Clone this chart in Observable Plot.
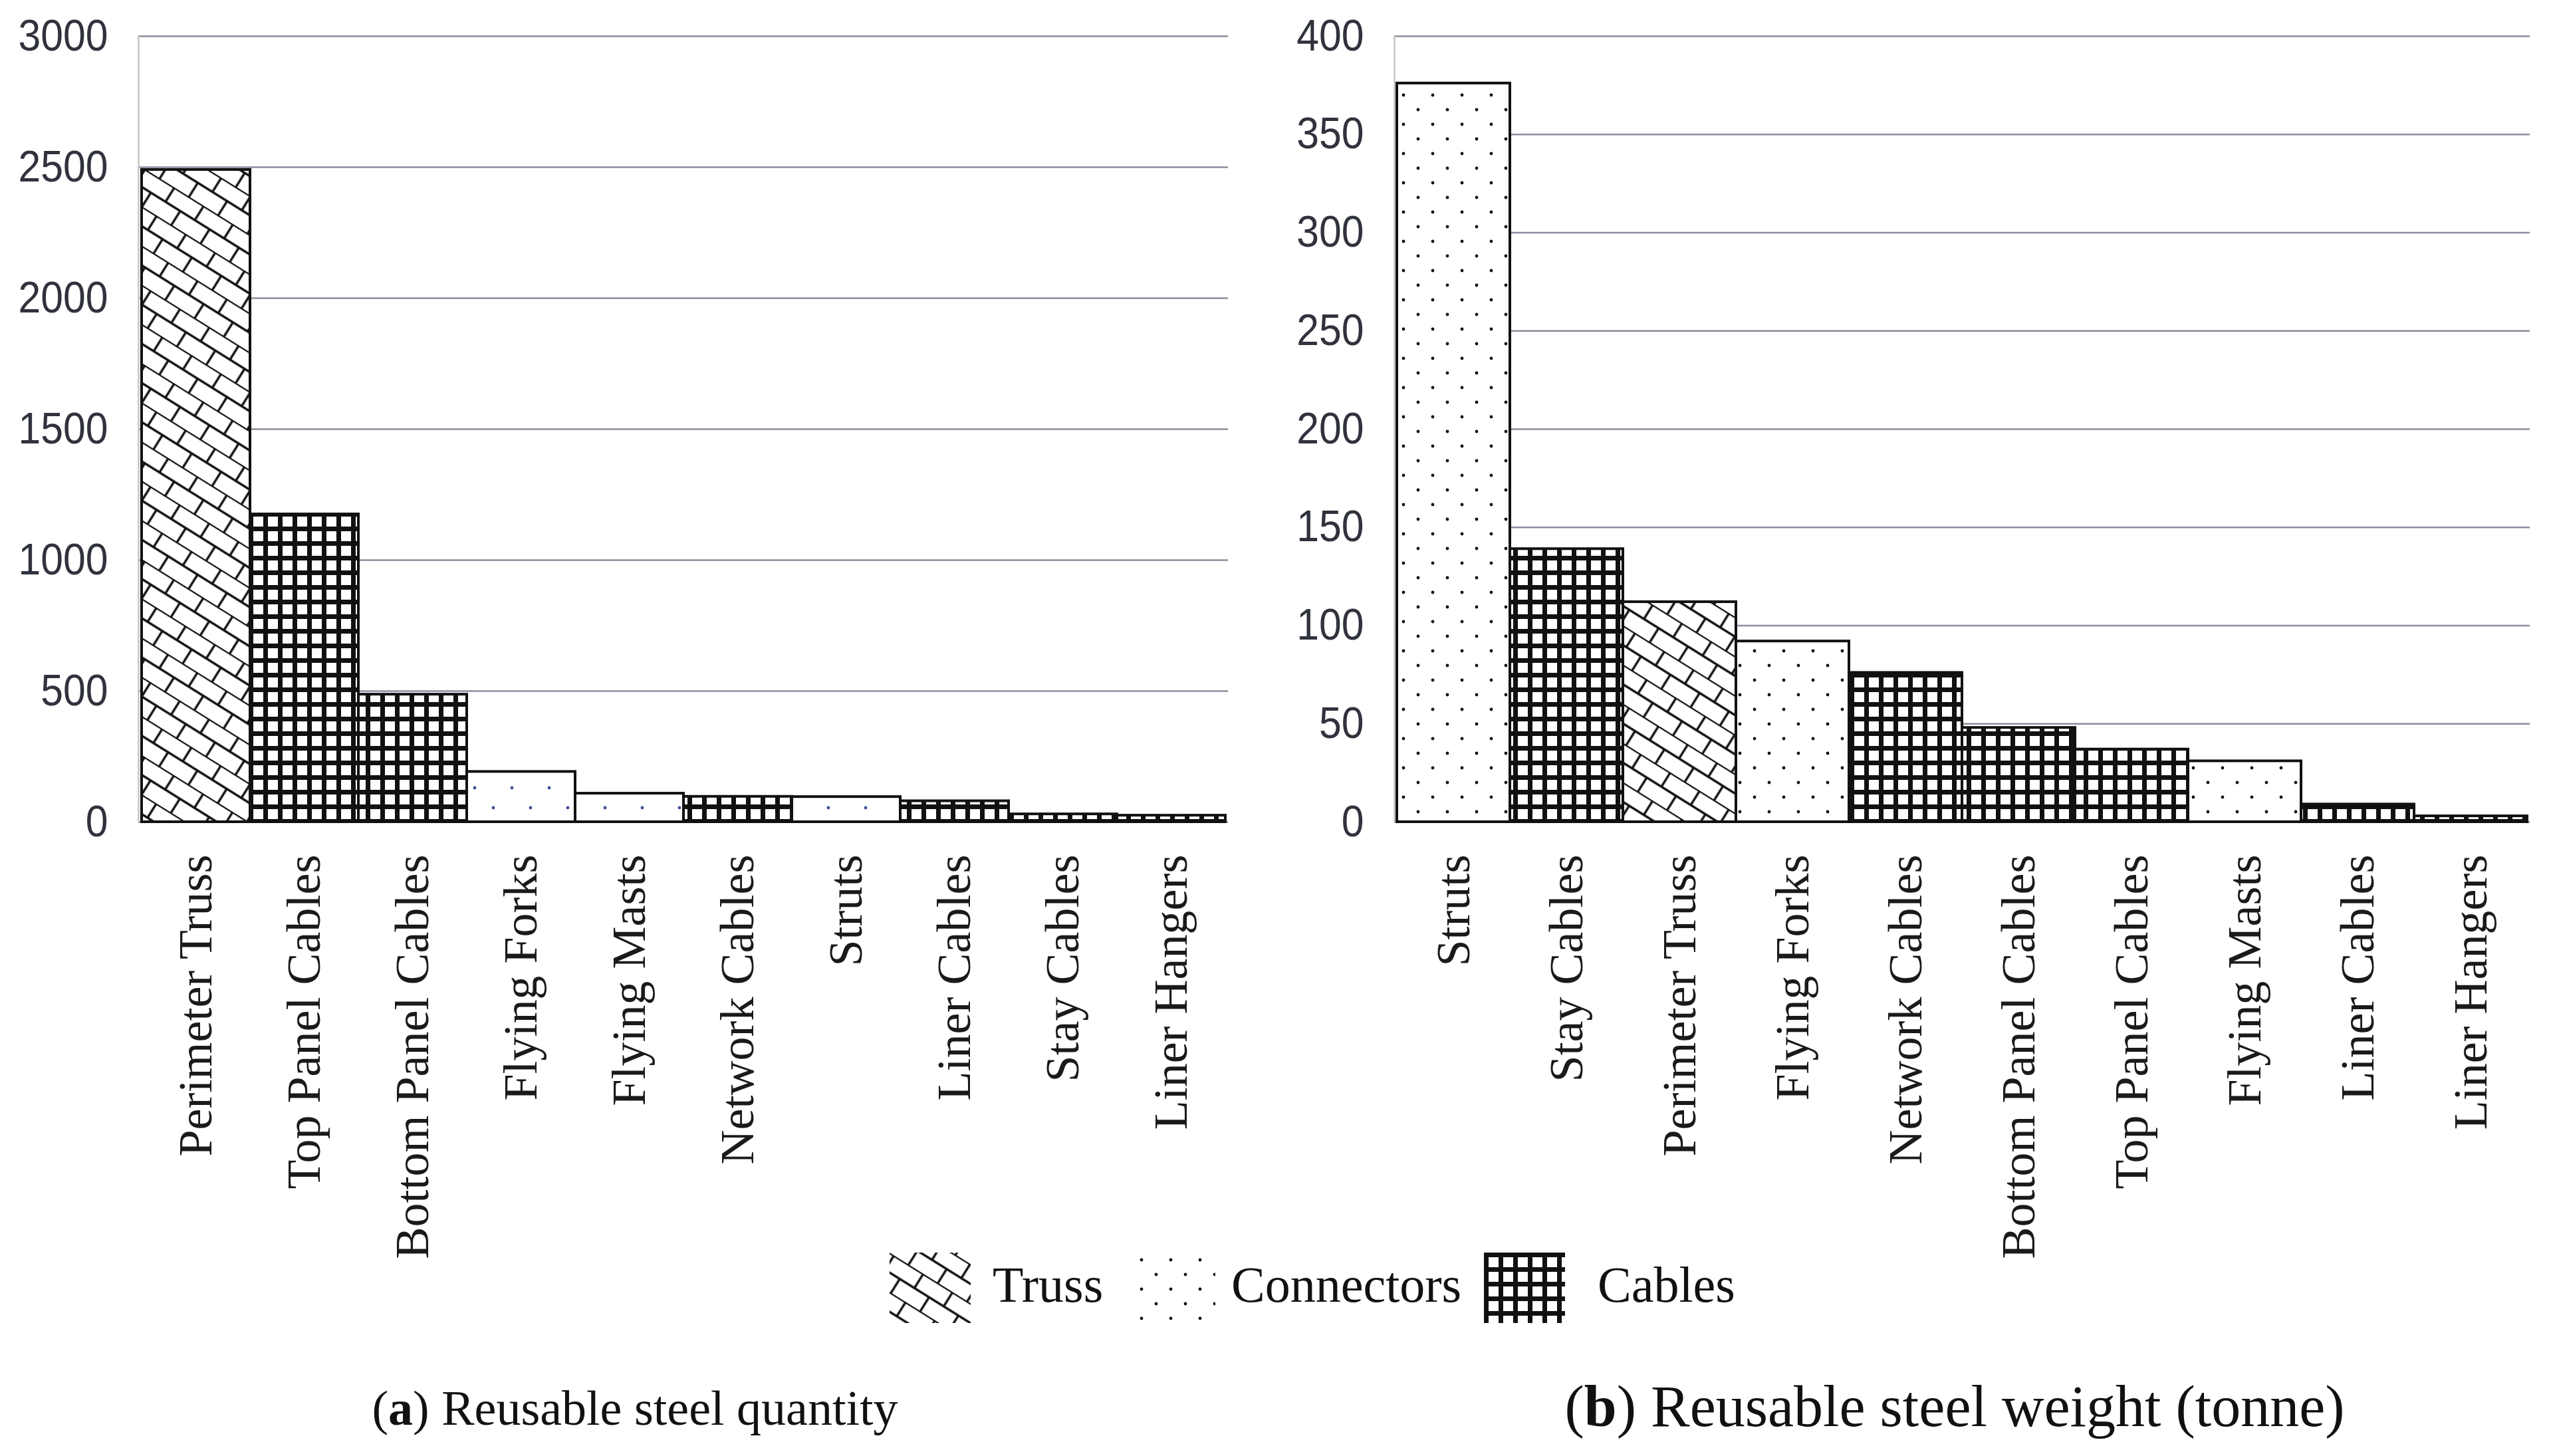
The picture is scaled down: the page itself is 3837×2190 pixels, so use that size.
<!DOCTYPE html>
<html>
<head>
<meta charset="utf-8">
<script src="https://cdn.jsdelivr.net/npm/d3@7"></script>
<script src="https://cdn.jsdelivr.net/npm/@observablehq/plot@0.6"></script>
<style>
  html, body { margin: 0; padding: 0; background: #fff; }
  #page { position: relative; width: 3837px; height: 2190px; overflow: hidden; background: #fff; }
  .abs { position: absolute; }
  .legtxt { font-family: "Liberation Serif", "DejaVu Serif", serif; font-size: 76px; color: #111; line-height: 1; white-space: nowrap; }
  .cap { font-family: "Liberation Serif", "DejaVu Serif", serif; color: #111; line-height: 1; text-align: center; white-space: nowrap; }
</style>
</head>
<body>
<div id="page">
  <svg class="abs" width="0" height="0" style="left:0;top:0">
    <defs>
      <pattern id="pTruss" patternUnits="userSpaceOnUse" width="52" height="50" patternTransform="rotate(32)">
        <rect width="52" height="50" fill="#fff"/>
        <path d="M0,0.5 H52 M0,25.5 H52 M8,0 V25 M34,25 V50" stroke="#111" stroke-width="3.4" fill="none"/>
      </pattern>
      <pattern id="pConnB" patternUnits="userSpaceOnUse" width="44" height="44">
        <rect width="44" height="44" fill="#fff"/>
        <circle cx="11" cy="11" r="2.4" fill="#111"/>
        <circle cx="33" cy="33" r="2.4" fill="#111"/>
      </pattern>
      <pattern id="pConnA" patternUnits="userSpaceOnUse" width="56" height="60">
        <rect width="56" height="60" fill="#fff"/>
        <circle cx="14" cy="15" r="2.4" fill="#3b4f9a"/>
        <circle cx="42" cy="45" r="2.4" fill="#3b4f9a"/>
      </pattern>
      <pattern id="pCables" patternUnits="userSpaceOnUse" width="22" height="22">
        <rect width="22" height="22" fill="#fff"/>
        <rect x="0" y="0" width="22" height="7" fill="#111"/>
        <rect x="0" y="0" width="7" height="22" fill="#111"/>
      </pattern>
    </defs>
  </svg>
  <div id="chartA" class="abs" style="left:0;top:0"></div>
  <div id="chartB" class="abs" style="left:1880px;top:0"></div>

  <svg class="abs" style="left:1338px;top:1884px" width="122" height="106"><rect width="122" height="106" fill="url(#pTruss)"/></svg>
  <div class="abs legtxt" style="left:1493px;top:1894px">Truss</div>
  <svg class="abs" style="left:1706px;top:1884px" width="122" height="106"><rect width="122" height="106" fill="url(#pConnB)"/></svg>
  <div class="abs legtxt" style="left:1852px;top:1894px">Connectors</div>
  <svg class="abs" style="left:2232px;top:1884px" width="122" height="106"><rect width="122" height="106" fill="url(#pCables)"/></svg>
  <div class="abs legtxt" style="left:2403px;top:1894px">Cables</div>

  <div class="abs cap" style="left:455px;width:1000px;top:2081px;font-size:74px">(<b>a</b>) Reusable steel quantity</div>
  <div class="abs cap" style="left:2240px;width:1400px;top:2072px;font-size:88px">(<b>b</b>) Reusable steel weight (tonne)</div>
</div>
<script>
// ---- Data: (a) Reusable steel quantity ----
const catsA = ["Perimeter Truss", "Top Panel Cables", "Bottom Panel Cables", "Flying Forks", "Flying Masts",
               "Network Cables", "Struts", "Liner Cables", "Stay Cables", "Liner Hangers"];
const valsA = [2490, 1175, 487, 192, 109, 97, 96, 80, 30, 25];
const typesA = ["Truss", "Cables", "Cables", "Connectors", "Connectors", "Cables", "Connectors", "Cables", "Cables", "Cables"];
const ticksA = [0, 500, 1000, 1500, 2000, 2500, 3000];

// ---- Data: (b) Reusable steel weight (tonne) ----
const catsB = ["Struts", "Stay Cables", "Perimeter Truss", "Flying Forks", "Network Cables",
               "Bottom Panel Cables", "Top Panel Cables", "Flying Masts", "Liner Cables", "Liner Hangers"];
const valsB = [376, 139, 112, 92, 76, 48, 37, 31, 9, 3];
const typesB = ["Connectors", "Cables", "Truss", "Connectors", "Cables", "Cables", "Cables", "Connectors", "Cables", "Cables"];
const ticksB = [0, 50, 100, 150, 200, 250, 300, 350, 400];

const typeDomain = ["Truss", "Connectors", "Cables"];

function makeChart(cats, vals, types, ticks, opts) {
  const data = cats.map((c, i) => ({cat: c, value: vals[i], type: types[i]}));
  const svg = Plot.plot({
    width: opts.width,
    height: 1880,
    marginLeft: opts.marginLeft,
    marginRight: opts.marginRight,
    marginTop: 54,
    marginBottom: 644,
    style: {background: "transparent", overflow: "visible"},
    x: {type: "band", domain: cats, padding: 0},
    y: {domain: [ticks[0], ticks[ticks.length - 1]]},
    color: {type: "ordinal", domain: typeDomain, range: opts.fills},
    marks: [
      Plot.gridY(ticks, {stroke: "#8b8e9e", strokeOpacity: 1, strokeWidth: 2.5}),
      Plot.frame({anchor: "left", stroke: "#c4c4c4", strokeWidth: 2.5}),
      Plot.barY(data, {x: "cat", y: "value", fill: "type", stroke: "#111", strokeWidth: 4}),
      Plot.axisY({ticks: ticks, tickSize: 0, tickPadding: 46, tickFormat: d => String(d),
                  fontSize: 66, fontFamily: "'Liberation Sans', Arial, sans-serif",
                  color: "#30333d", label: null}),
      Plot.axisX({tickSize: 0, tickPadding: 49, tickRotate: -90, fontSize: 72,
                  fontFamily: "'Liberation Serif', 'DejaVu Serif', serif", color: "#1a1a1a", label: null})
    ]
  });
  // condense the y tick labels horizontally (anchored at their right end)
  d3.select(svg).selectAll('g[aria-label="y-axis tick label"] text').each(function () {
    const t = this.getAttribute("transform") || "";
    this.setAttribute("transform", `${t} scale(0.92,1)`);
  });
  return svg;
}

document.getElementById("chartA").append(
  makeChart(catsA, valsA, typesA, ticksA, {width: 1870, marginLeft: 208, marginRight: 23,
    fills: ["url(#pTruss)", "url(#pConnA)", "url(#pCables)"]}));
document.getElementById("chartB").append(
  makeChart(catsB, valsB, typesB, ticksB, {width: 1957, marginLeft: 217, marginRight: 32,
    fills: ["url(#pTruss)", "url(#pConnB)", "url(#pCables)"]}));
</script>
</body>
</html>
